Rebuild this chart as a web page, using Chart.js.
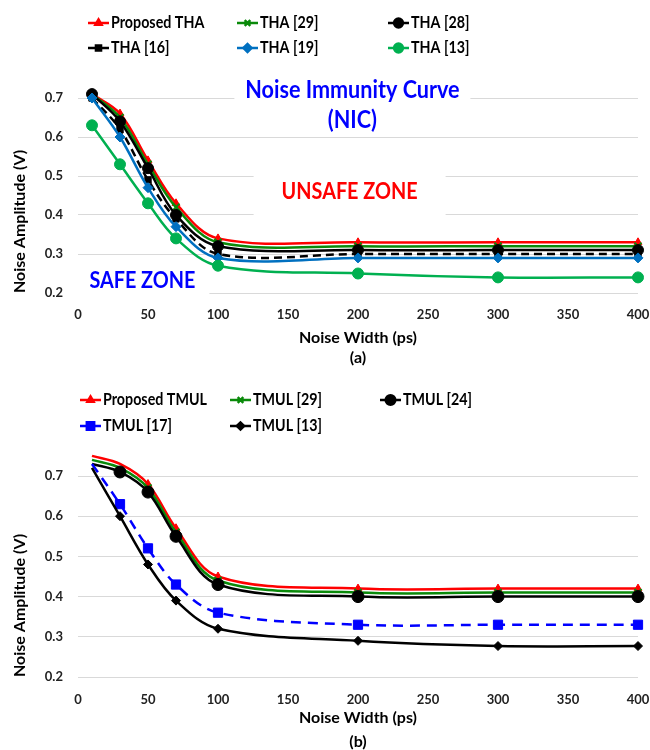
<!DOCTYPE html>
<html>
<head>
<meta charset="utf-8">
<script src="https://cdn.jsdelivr.net/npm/chart.js@4"></script>
<style>
  html, body { margin: 0; padding: 0; background: #fff; overflow: hidden; }
  #wrapA { position: absolute; left: 0; top: 0; width: 650px; height: 370px; }
  #wrapB { position: absolute; left: 0; top: 375px; width: 650px; height: 385px; }
</style>
</head>
<body>
<div id="wrapA"><canvas id="chartA"></canvas></div>
<div id="wrapB"><canvas id="chartB"></canvas></div>
<script>
// x values shared by both panels (ps)
const noiseWidth = [10, 30, 50, 70, 100, 200, 300, 400]

// panel (a) - THA
const thaLabels = ['Proposed THA', 'THA [29]', 'THA [28]', 'THA [16]', 'THA [19]', 'THA [13]']
const thaProposed = [0.71, 0.66, 0.54, 0.43, 0.34, 0.33, 0.33, 0.33]
const tha29 = [0.71, 0.65, 0.53, 0.42, 0.33, 0.32, 0.32, 0.32]
const tha28 = [0.71, 0.64, 0.52, 0.40, 0.32, 0.31, 0.31, 0.31]
const tha16 = [0.70, 0.62, 0.49, 0.39, 0.30, 0.30, 0.30, 0.30]
const tha19 = [0.70, 0.60, 0.47, 0.37, 0.29, 0.29, 0.29, 0.29]
const tha13 = [0.63, 0.53, 0.43, 0.34, 0.27, 0.25, 0.24, 0.24]

// panel (b) - TMUL
const tmulLabels = ['Proposed TMUL', 'TMUL [29]', 'TMUL [24]', 'TMUL [17]', 'TMUL [13]']
const tmulProposed = [0.75, 0.73, 0.68, 0.57, 0.45, 0.42, 0.42, 0.42]
const tmul29 = [0.74, 0.72, 0.67, 0.56, 0.44, 0.41, 0.41, 0.41]
const tmul24 = [0.73, 0.71, 0.66, 0.55, 0.43, 0.40, 0.40, 0.40]
const tmul17 = [0.73, 0.63, 0.52, 0.43, 0.36, 0.33, 0.33, 0.33]
const tmul13 = [0.72, 0.60, 0.48, 0.39, 0.32, 0.29, 0.277, 0.277]

const FONT = 'Lato, "Open Sans", sans-serif'

function toPoints(values) {
  return values.map((v, i) => ({ x: noiseWidth[i], y: v }))
}

function series(label, values, color, style, radius, idx, total, dash) {
  return {
    label: label,
    data: toPoints(values),
    borderColor: color,
    backgroundColor: color,
    borderWidth: 2.5,
    borderDash: dash || [],
    pointStyle: style,
    pointRadius: radius,
    pointBorderWidth: style === 'crossRot' ? 2 : 1,
    pointBorderColor: color,
    pointBackgroundColor: color,
    tension: 0.35,
    clip: false,
    order: total - idx  // later series drawn on top, like the original
  }
}

// squeezed text, closer to the narrow original face
function narrowText(ctx, text, x, y, size, sx, align, color) {
  ctx.save()
  ctx.translate(x, y)
  ctx.scale(sx, 1)
  ctx.fillStyle = color
  ctx.font = 'bold ' + size + 'px ' + FONT
  ctx.textAlign = align
  ctx.textBaseline = 'middle'
  ctx.fillText(text, 0, 0)
  ctx.restore()
}

// legend laid out in fixed columns
const gridLegend = {
  id: 'gridLegend',
  afterDraw(chart, args, opts) {
    const ctx = chart.ctx
    ctx.save()
    chart.data.datasets.forEach((ds, i) => {
      const x = opts.cols[i % 3]
      const y = opts.rows[Math.floor(i / 3)]
      ctx.strokeStyle = ds.borderColor
      ctx.lineWidth = 2.5
      ctx.setLineDash([])
      ctx.beginPath()
      ctx.moveTo(x, y)
      ctx.lineTo(x + 21, y)
      ctx.stroke()
      ctx.fillStyle = ds.backgroundColor
      ctx.strokeStyle = ds.borderColor
      Chart.helpers.drawPoint(ctx, {
        pointStyle: ds.pointStyle,
        radius: ds.pointRadius * 0.8,
        rotation: 0,
        borderWidth: ds.pointBorderWidth
      }, x + 10.5, y)
      narrowText(ctx, ds.label, x + 23, y, 17, 0.84, 'left', '#000')
    })
    ctx.restore()
  }
}

// text boxes placed in data coordinates (white background hides gridlines)
const zoneNotes = {
  id: 'zoneNotes',
  beforeDatasetsDraw(chart, args, opts) {
    const ctx = chart.ctx
    const xs = chart.scales.x
    const ys = chart.scales.y
    ctx.save()
    opts.notes.forEach(n => {
      const cx = xs.getPixelForValue(n.x)
      const cy = ys.getPixelForValue(n.y)
      ctx.fillStyle = '#fff'
      ctx.fillRect(cx - n.w / 2, cy - n.h / 2, n.w, n.h)
    })
    opts.notes.forEach(n => {
      const cx = xs.getPixelForValue(n.x)
      const cy = ys.getPixelForValue(n.y)
      narrowText(ctx, n.text, cx, cy, n.size, 0.9, 'center', n.color)
    })
    ctx.restore()
  }
}

function baseOptions(cfg) {
  return {
    responsive: true,
    maintainAspectRatio: false,
    animation: false,
    layout: { padding: { top: cfg.top, right: 12, left: 0, bottom: 0 } },
    plugins: {
      legend: { display: false },
      tooltip: { enabled: false },
      gridLegend: { cols: cfg.cols, rows: cfg.rows },
      zoneNotes: { notes: cfg.notes }
    },
    scales: {
      x: {
        type: 'linear',
        min: 0,
        max: 400,
        ticks: { stepSize: 50, color: '#222', padding: cfg.tickPad, font: { family: FONT, size: 13, weight: 'bold' } },
        grid: { display: false },
        border: { display: false },
        title: {
          display: true,
          text: ['Noise Width (ps)', cfg.tag],
          color: '#000',
          font: { family: FONT, size: 16, weight: 'bold', lineHeight: cfg.titleLH },
          padding: { top: 0, bottom: cfg.titlePB }
        },
        afterFit: s => {
          s.height = cfg.xHeight
          s.paddingLeft = 0
          s.paddingRight = 0
        }
      },
      y: {
        min: 0.2,
        max: 0.7,
        ticks: {
          stepSize: 0.1,
          color: '#222',
          padding: 15,
          font: { family: FONT, size: 13, weight: 'bold' },
          callback: v => v.toFixed(1)
        },
        grid: { color: '#d9d9d9', lineWidth: 1, drawTicks: false },
        border: { display: false },
        title: {
          display: true,
          text: 'Noise Amplitude (V)',
          align: 'start',
          color: '#000',
          font: { family: FONT, size: 16, weight: 'bold' },
          padding: { top: 10, bottom: 0 }
        },
        afterFit: s => { s.width = 78 }
      }
    }
  }
}

const thaSets = [
  series(thaLabels[0], thaProposed, '#FF0000', 'triangle', 4.5, 0, 6),
  series(thaLabels[1], tha29, '#0A8A0A', 'crossRot', 5, 1, 6),
  series(thaLabels[2], tha28, '#000000', 'circle', 5.5, 2, 6),
  series(thaLabels[3], tha16, '#000000', 'rect', 4.5, 3, 6, [8, 5]),
  series(thaLabels[4], tha19, '#0070C0', 'rectRot', 5, 4, 6),
  series(thaLabels[5], tha13, '#00B050', 'circle', 5.5, 5, 6)
]

const tmulSets = [
  series(tmulLabels[0], tmulProposed, '#FF0000', 'triangle', 4.5, 0, 5),
  series(tmulLabels[1], tmul29, '#0A8A0A', 'crossRot', 5, 1, 5),
  series(tmulLabels[2], tmul24, '#000000', 'circle', 6, 2, 5),
  series(tmulLabels[3], tmul17, '#0000FF', 'rect', 6.5, 3, 5, [10, 7]),
  series(tmulLabels[4], tmul13, '#000000', 'rectRot', 4.5, 4, 5)
]

new Chart(document.getElementById('chartA'), {
  type: 'line',
  data: { datasets: thaSets },
  options: baseOptions({
    top: 98, tag: '(a)', titleLH: 1.25, titlePB: 2, xHeight: 77, tickPad: 6,
    cols: [88, 237, 388], rows: [23, 48],
    notes: [
      { text: 'Noise Immunity Curve', x: 196, y: 0.72, color: '#0000FF', size: 24, w: 236, h: 34 },
      { text: '(NIC)', x: 196, y: 0.644, color: '#0000FF', size: 24, w: 236, h: 30 },
      { text: 'UNSAFE ZONE', x: 194, y: 0.459, color: '#FF0000', size: 22, w: 192, h: 56 },
      { text: 'SAFE ZONE', x: 46, y: 0.231, color: '#0000FF', size: 22, w: 134, h: 30 }
    ]
  }),
  plugins: [gridLegend, zoneNotes]
})

new Chart(document.getElementById('chartB'), {
  type: 'line',
  data: { datasets: tmulSets },
  options: baseOptions({
    top: 101, tag: '(b)', titleLH: 1.5, titlePB: 6, xHeight: 83, tickPad: 7,
    cols: [80, 230, 380], rows: [25, 51],
    notes: []
  }),
  plugins: [gridLegend, zoneNotes]
})
</script>
</body>
</html>
